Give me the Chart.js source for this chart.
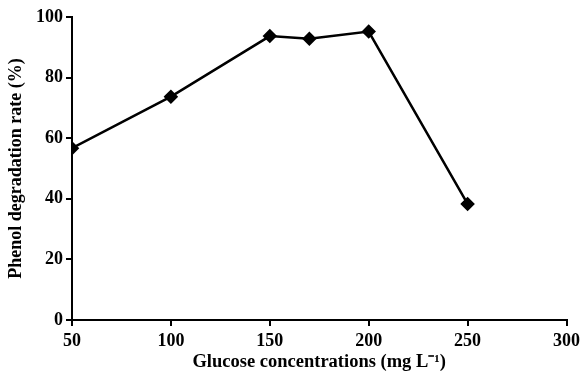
<!DOCTYPE html>
<html>
<head>
<meta charset="utf-8">
<script src="https://cdn.jsdelivr.net/npm/chart.js@4"></script>
<style>
html,body{margin:0;padding:0;background:#fff;}
#wrap{width:585px;height:390px;}
</style>
</head>
<body>
<div id="wrap"><canvas id="c" width="585" height="390"></canvas></div>
<script>
const glucose = [50, 100, 150, 170, 200, 250];
const degradation = [56.7, 73.7, 93.7, 92.8, 95.2, 38.3];
const xTicks = [50, 100, 150, 200, 250, 300];
const yTicks = [0, 20, 40, 60, 80, 100];
const xTitle = 'Glucose concentrations (mg L\u207B\u00B9)';
const yTitle = 'Phenol degradation rate (%)';

const points = glucose.map((g, i) => ({x: g, y: degradation[i]}));
const serif = 'Liberation Serif, "Times New Roman", serif';

new Chart(document.getElementById('c'), {
  type: 'line',
  data: {
    datasets: [{
      data: points,
      borderColor: '#000',
      backgroundColor: '#000',
      borderWidth: 2.5,
      pointStyle: 'rectRot',
      pointRadius: 5.5,
      pointBackgroundColor: '#000',
      pointBorderColor: '#000',
      tension: 0,
      fill: false
    }]
  },
  options: {
    responsive: false,
    animation: false,
    events: [],
    layout: {padding: {left: 0, right: 18, top: 17, bottom: 0}},
    plugins: {legend: {display: false}, tooltip: {enabled: false}},
    scales: {
      x: {
        type: 'linear',
        min: 50, max: 300,
        afterBuildTicks: s => { s.ticks = xTicks.map(v => ({value: v})); },
        afterFit: s => { s.height = 70; },
        border: {display: true, color: '#000', width: 2},
        grid: {drawOnChartArea: false, drawTicks: true, tickLength: 6, color: '#000', lineWidth: 2},
        ticks: {color: '#000', padding: 5, maxRotation: 0, font: {family: serif, size: 18, weight: 'bold'}},
        title: {display: true, text: xTitle, color: '#000', padding: {top: 0, bottom: 17}, font: {family: serif, size: 18.5, weight: 'bold'}}
      },
      y: {
        min: 0, max: 100,
        afterBuildTicks: s => { s.ticks = yTicks.map(v => ({value: v})); },
        afterFit: s => { s.width = 72; },
        border: {display: true, color: '#000', width: 2},
        grid: {drawOnChartArea: false, drawTicks: true, tickLength: 6, color: '#000', lineWidth: 2},
        ticks: {color: '#000', padding: 3, font: {family: serif, size: 18, weight: 'bold'}},
        title: {display: true, text: yTitle, color: '#000', padding: {top: 6, bottom: 0}, font: {family: serif, size: 18, weight: 'bold'}}
      }
    }
  }
});
</script>
</body>
</html>
